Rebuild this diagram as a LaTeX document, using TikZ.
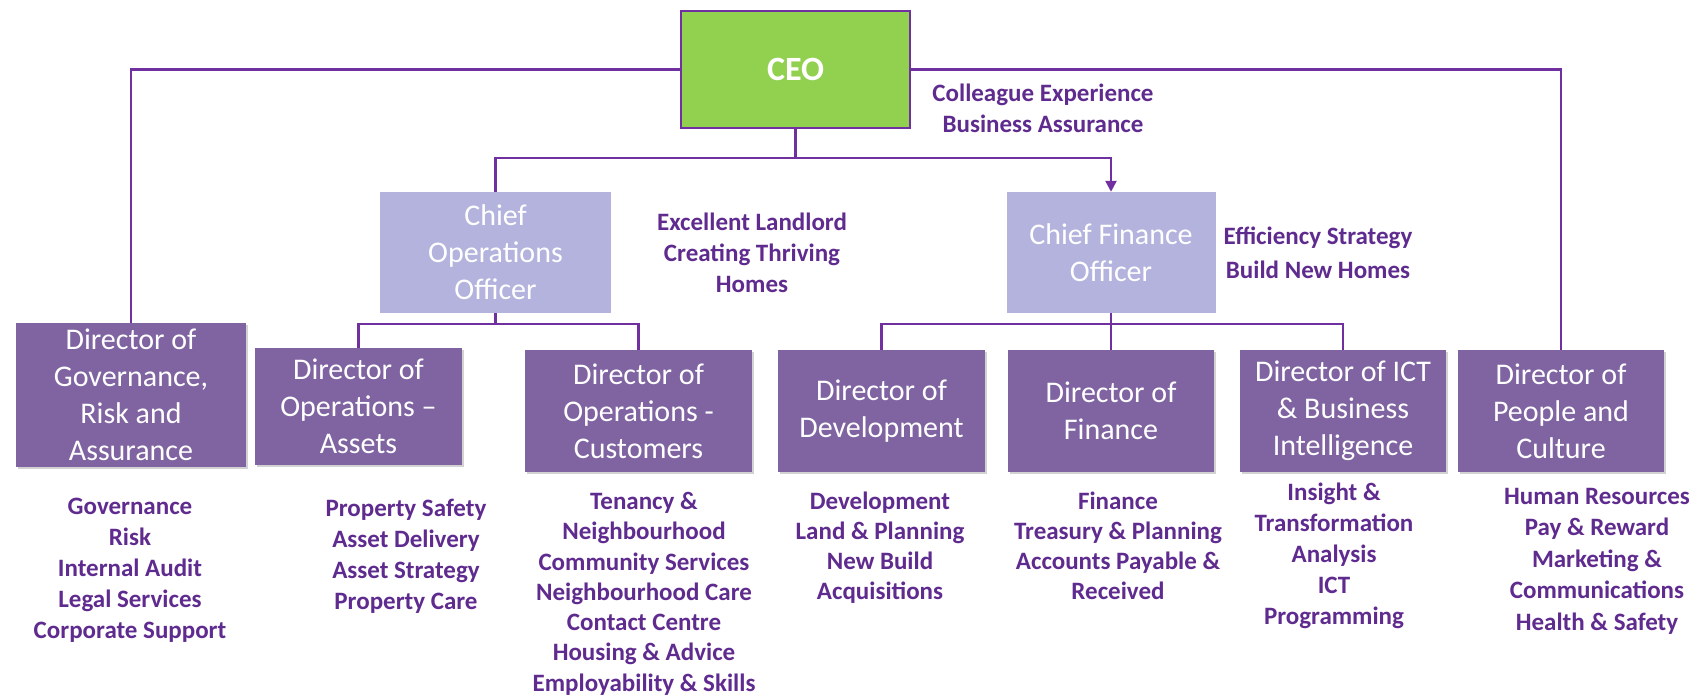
\documentclass[tikz,border=0pt]{standalone}
\usepackage{fontspec}
\setmainfont{Carlito}
\usetikzlibrary{arrows.meta,shadows}
\definecolor{ceogreen}{HTML}{92D050}
\definecolor{linepurple}{HTML}{7030A0}
\definecolor{boxpurple}{HTML}{8064A2}
\definecolor{chiefpurple}{HTML}{B3B3DE}
\definecolor{textpurple}{HTML}{5F2B8F}
\begin{document}
\begin{tikzpicture}[x=1pt,y=-1pt,
  conn/.style={draw=linepurple,line width=2.4pt},
  dirbox/.style={fill=boxpurple,text=white,align=center,inner sep=0pt,
    minimum height=122pt,font=\fontsize{30}{37}\selectfont,
    drop shadow={shadow xshift=2pt,shadow yshift=-2pt,fill=black!35,opacity=0.5}},
  chiefbox/.style={fill=chiefpurple,text=white,align=center,inner sep=0pt,
    minimum height=121pt,font=\fontsize{30}{37}\selectfont},
  ceobox/.style={fill=ceogreen,draw=linepurple,line width=2.4pt,text=white,inner sep=0pt,
    minimum width=229pt,minimum height=117pt,font=\bfseries\fontsize{34}{40}\selectfont},
  duties/.style={text=textpurple,align=center,anchor=north,inner sep=0pt,
    font=\bfseries\fontsize{25}{31}\selectfont},
  remark/.style={text=textpurple,align=center,anchor=north,inner sep=0pt,
    font=\bfseries\fontsize{25}{31}\selectfont}
]
\fill[white] (0,0) rectangle (1704,700);
\useasboundingbox (0,0) rectangle (1704,700);

% boxes
\node[ceobox] (ceo) at (795.5,69.5) {CEO};
\node[chiefbox,minimum width=231pt] (coo) at (495.5,252.5) {Chief\\Operations\\Officer};
\node[chiefbox,minimum width=209pt] (cfo) at (1111,252.5) {Chief Finance\\Officer};

\node[dirbox,minimum width=230pt,minimum height=144pt] (gov) at (131,395) {Director of\\Governance,\\Risk and\\Assurance};
\node[dirbox,minimum width=207pt,minimum height=117pt] (assets) at (358.5,406.5) {Director of\\Operations --\\Assets};
\node[dirbox,minimum width=227pt] (cust) at (638.5,411) {Director of\\Operations -\\Customers};
\node[dirbox,minimum width=207pt] (dev) at (881.5,411) {Director of\\Development};
\node[dirbox,minimum width=206pt] (fin) at (1111,411) {Director of\\Finance};
\node[dirbox,minimum width=206pt] (ict) at (1343,411) {Director of ICT\\\& Business\\Intelligence};
\node[dirbox,minimum width=206pt] (ppl) at (1561,411) {Director of\\People and\\Culture};

% connectors
\coordinate (ceobus) at (795.5,158);
\coordinate (coobus) at (495.5,324);
\coordinate (cfobus) at (1111,324);
\draw[conn] (ceo.west) -| (gov.north);
\draw[conn] (ceo.east) -| (ppl.north);
\draw[conn] (ceo.south) -- (ceobus);
\draw[conn] (coo.north) -- (coo.north |- ceobus) -- (ceobus);
\draw[conn,-{Triangle[width=11pt,length=11pt]}] (ceobus) -- (cfo.north |- ceobus) -- (cfo.north);
\draw[conn] (coo.south) -- (coobus);
\draw[conn] (assets.north) |- (coobus) -| (cust.north);
\draw[conn] (cfo.south) -- (fin.north);
\draw[conn] (dev.north) |- (cfobus) -| (ict.north);

% remarks
\node[remark] (r1) at (1043,84) {Colleague Experience\\Business Assurance};
\node[remark] (r2) at (752,213) {Excellent Landlord\\Creating Thriving\\Homes};
\node[remark,font=\bfseries\fontsize{25}{33.5}\selectfont] (r3) at (1318,227) {Efficiency Strategy\\Build New Homes};

% duties
\node[duties] (d1) at (130,497.5) {Governance\\Risk\\Internal Audit\\Legal Services\\Corporate Support};
\node[duties] (d2) at (406,498.5) {Property Safety\\Asset Delivery\\Asset Strategy\\Property Care};
\node[duties,font=\bfseries\fontsize{25}{30.3}\selectfont] (d3) at (644,492) {Tenancy \&\\Neighbourhood\\Community Services\\Neighbourhood Care\\Contact Centre\\Housing \& Advice\\Employability \& Skills};
\node[duties,font=\bfseries\fontsize{25}{30}\selectfont] (d4) at (880,492) {Development\\Land \& Planning\\New Build\\Acquisitions};
\node[duties,font=\bfseries\fontsize{25}{30}\selectfont] (d5) at (1118,492) {Finance\\Treasury \& Planning\\Accounts Payable \&\\Received};
\node[duties] (d6) at (1334,483) {Insight \&\\Transformation\\Analysis\\ICT\\Programming};
\node[duties,font=\bfseries\fontsize{25}{31.5}\selectfont] (d7) at (1597,488) {Human Resources\\Pay \& Reward\\Marketing \&\\Communications\\Health \& Safety};
\end{tikzpicture}
\end{document}
